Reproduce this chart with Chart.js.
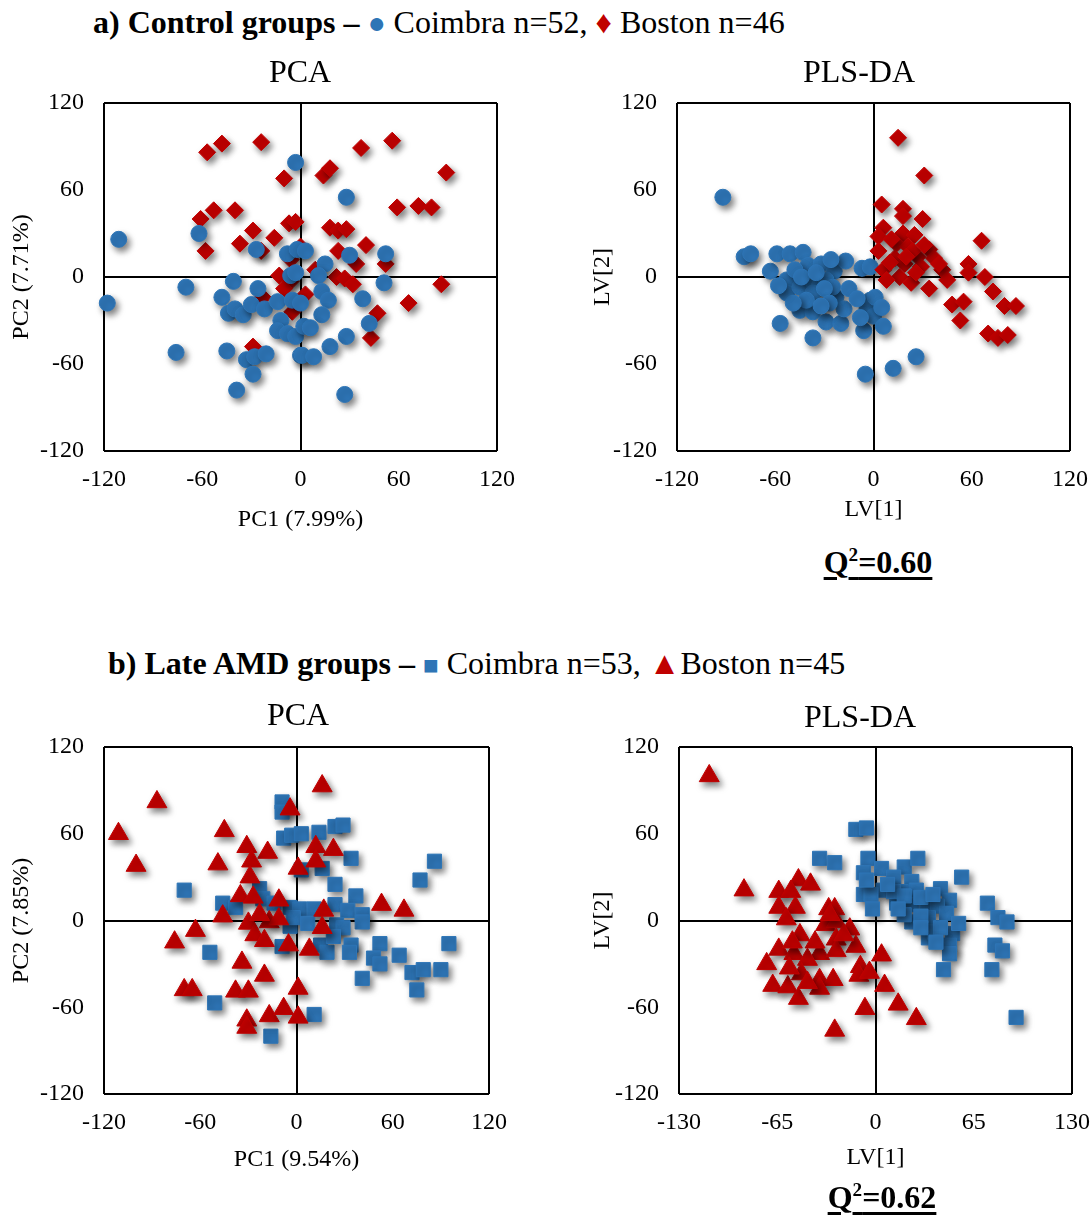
<!DOCTYPE html>
<html>
<head>
<meta charset="utf-8">
<script src="https://cdn.jsdelivr.net/npm/chart.js@4.4.0/dist/chart.umd.min.js"></script>
<style>
  body { margin: 0; width: 1092px; height: 1215px; overflow: hidden; background: #fff; position: relative;
         font-family: 'Liberation Serif', 'Times New Roman', serif; color: #000; }
  .box { position: absolute; }
  .txt { position: absolute; white-space: nowrap; line-height: 1; }
  .mid { transform: translate(-50%, -50%); }
  .q2 { font-weight: bold; font-size: 32px; text-decoration: underline; text-decoration-thickness: 3px; text-underline-offset: 4px; }
  .q2 sup { font-size: 0.6em; line-height: 0; }
</style>
</head>
<body>
<div class="box" style="left:0px;top:63px"><canvas id="aPca" width="537" height="478"></canvas></div>
<div class="box" style="left:580px;top:63px"><canvas id="aPls" width="530" height="478"></canvas></div>
<div class="box" style="left:0px;top:707px"><canvas id="bPca" width="529" height="478"></canvas></div>
<div class="box" style="left:580px;top:707px"><canvas id="bPls" width="532" height="478"></canvas></div>

<div class="txt" style="left:93px;top:6px;font-size:32px"><b>a) Control groups –</b> <span style="color:#2E75B6;font-size:30px">●</span> Coimbra n=52, <span style="color:#C00000">♦</span> Boston n=46</div>
<div class="txt mid" style="left:300px;top:71px;font-size:32px">PCA</div>
<div class="txt mid" style="left:859px;top:71px;font-size:32px">PLS-DA</div>
<div class="txt mid q2" style="left:878px;top:562px">Q<sup>2</sup>=0.60</div>

<div class="txt" style="left:108px;top:647px;font-size:32px"><b>b) Late AMD groups –</b> <span style="color:#2E75B6;font-size:26px">■</span> Coimbra n=53, <span style="color:#C00000">▲</span>Boston n=45</div>
<div class="txt mid" style="left:298px;top:714px;font-size:32px">PCA</div>
<div class="txt mid" style="left:860px;top:716px;font-size:32px">PLS-DA</div>
<div class="txt mid q2" style="left:882px;top:1197px">Q<sup>2</sup>=0.62</div>

<script>
// tick labels
const ticks120 = [-120, -60, 0, 60, 120];
const ticks130 = [-130, -65, 0, 65, 130];

// a) control groups, PCA
const aPcaCoimbraX = [-3, -111, -62, -27, -8, -2, -6, -118, -70, -41, -48, -26, -44, -40, -35, -30, -22, -14, -5, -12, -14, -8, -3, -76, -45, -33, -28, -21, -29, -39, 0, 2,
  28, 30, 52, 51, 3, 15, 11, -3, 13, 17, 38, 13, 42, 6, 28, 18, 1, 8, 27, 0];
const aPcaCoimbraY = [79, 26, 30, 19, 16, 19, 1, -18, -7, -3, -14, -8, -25, -22, -26, -19, -22, -17, -16, -30, -37, -39, -41, -52, -51, -57, -55, -53, -67, -78, -54, -34,
  55, 15, 16, -4, 18, 9, 1, 3, -10, -16, -15, -26, -32, -35, -41, -48, -54, -55, -81, -18];
const aPcaBostonX = [-57, -48, -24, -10, -61, -53, -40, -58, -37, -29, -24, -16, -7, -3, -13, -6, 0, -23, -5, -29,
  56, 37, 14, 18, 89, 59, 72, 80, 18, 23, 28, 40, 23, 34, 52, 22, 27, 32, 9, 86, 66, 47, 43, -10, 3, -6];
const aPcaBostonY = [86, 92, 93, 68, 40, 46, 46, 18, 23, 32, 18, 27, 37, 38, 1, -3, 21, -14, -24, -48,
  94, 89, 70, 75, 72, 48, 49, 48, 34, 32, 33, 22, 18, 9, 9, 0, -1, -5, 5, -5, -18, -25, -42, -8, -12, 12];

// a) control groups, PLS-DA
const aPlsCoimbraX = [-92, -79, -75, -63, -59, -51, -43, -40, -32, -24, -17, -7, -53, -53, -45, -37, -33, -29, -37, -23, -45, -37, -29, -20, -18, -57,
  -37, -6, -2, -4, 0, -5, -25, 1, 5, 6, -2, 12, 26, -48, -44, -35, -30, -27, -41, -49, -32, -15, -10, -26, -8, -58];
const aPlsCoimbraY = [55, 14, 16, 4, 16, 16, 17, 8, 9, 4, 11, 6, -2, -11, -7, -3, -6, -2, -11, -14, -23, -24, -31, -32, -22, -32,
  -42, -37, -16, -22, -27, -67, -7, -14, -21, -34, 7, -63, -55, 5, 0, 3, -8, -18, -16, -18, -20, -8, -15, 12, -28, -6];
const aPlsBostonX = [15, 31, 5, 18, 18, 30, 6, 3, 18, 25, 14, 21, 3, 34, 13, 27, 37, 19, 29, 6, 42, 45, 16, 23, 34, 58, 58, 66, 68, 73, 48, 55, 53, 80, 87, 70, 76, 82,
  11, 24, 10, 31, 20, 40, 8, 26];
const aPlsBostonY = [96, 70, 50, 47, 42, 40, 34, 28, 30, 29, 23, 21, 18, 19, 13, 14, 13, 9, 7, 5, 5, -2, 0, -4, -8, 9, 3, 25, 0, -10, -19, -17, -30, -20, -20, -39, -42, -40,
  26, 18, 10, 22, 14, 9, -2, 3];

// b) late AMD groups, PCA
const bPcaCoimbraX = [-9, -9, -8, -3, -70, -46, -38, -23, -21, -4, -4, -9, -54, -51, -16,
  3, 14, 24, 29, 34, 16, 3, 86, 77, 24, 37, 24, 32, 41, 41, 2, 11, -2, 25, 29, 15, 19, 23, 34, 33, 52, 48, 52, 64, 72, 79, 90, 95, 75, 41, 11, 7, -14];
const bPcaCoimbraY = [82, 75, 57, 59, 21, 12, 9, 22, 15, 9, -4, -18, -22, -57, -80,
  60, 61, 65, 66, 43, 36, 35, 41, 28, 25, 17, 11, 7, 4, -1, 8, 8, 2, -3, -5, -17, -22, -11, -17, -22, -16, -26, -30, -24, -36, -34, -34, -16, -48, -40, -65, -2, 12];
const bPcaBostonX = [-87, -111, -100, -45, -31, -18, -28, -49, -29, -35, -27, -11, -4, 1, -46, -30, -17, -11, -26, -20, -5, -63, -76, -34, -20, -70, -65, -38, -30,
  -31, -31, -17, -8, 1, 1, 16, 12, 23, 12, 17, 16, 53, 67, -23, 8];
const bPcaBostonY = [82, 60, 38, 62, 51, 47, 41, 39, 30, 17, 16, 14, 77, 36, 3, -2, -1, 1, -10, -14, -17, -7, -15, -29, -38, -48, -48, -49, -49,
  -69, -74, -66, -61, -47, -67, 93, 51, 49, 41, 7, -5, 11, 7, 4, -20];

// b) late AMD groups, PLS-DA
const bPlsCoimbraX = [-13, -6, -37, -27, -5, -8, -8, 4, 19, 28, 57, 12, 24, 5, -3, 17, 27, 43, 49, 14, 24, 34, 41, 47, 74, 81, 87, 24, 35, 35, 39, 51, 49, 49, 79, 84, 45, 77, 93,
  12, 19, 30, 38, 19, 30, 43, -6, 8, 15, 30, 40, -2, 55];
const bPlsCoimbraY = [63, 64, 43, 40, 43, 33, 18, 36, 37, 43, 30, 30, 27, 21, 18, 20, 21, 22, 14, 12, 11, 12, 10, 5, 12, 2, -1, -1, 2, -12, -8, -9, -17, -23, -17, -21, -34, -34, -67,
  20, 17, 16, 18, 4, 3, -5, 28, 25, 8, -5, -15, 8, -2];
const bPlsBostonX = [-110, -87, -51, -43, -64, -56, -64, -53, -59, -31, -27, -33, -26, -17, -26, -50, -13, -64, -54, -37, -26, -45, -72, -10, -49, -68, -58, -37, -28, -11,
  -51, -37, -7, -27, 4, -4, 6, 15, 27, -21, -40, -57, -45, -30, -55];
const bPlsBostonY = [100, 21, 28, 25, 20, 20, 9, 9, 1, 8, 8, -3, -1, -6, -13, -10, -18, -20, -23, -23, -21, -27, -30, -32, -37, -45, -46, -41, -41, -38,
  -54, -47, -61, -76, -24, -36, -45, -58, -68, -10, -15, -33, -43, 4, -15];

const BLUE = '#2E75B6';
const RED = '#C00000';
const FONT = "'Liberation Serif', 'Times New Roman', serif";

function pts(xs, ys) {
  return xs.map((x, i) => ({x: x, y: ys[i]}));
}

// excel-like drop shadow under the markers
const shadow = {
  id: 'shadow',
  beforeDatasetsDraw(chart) {
    const c = chart.ctx;
    c.save();
    c.shadowColor = 'rgba(0,0,0,0.5)';
    c.shadowBlur = 6;
    c.shadowOffsetX = 3;
    c.shadowOffsetY = 4;
  },
  afterDatasetsDraw(chart) {
    chart.ctx.restore();
  }
};

function axis(pos, tickList, title, size, titlePad, tickPad) {
  const lo = tickList[0], hi = tickList[tickList.length - 1];
  return {
    type: 'linear',
    position: pos,
    min: lo,
    max: hi,
    afterBuildTicks: s => { s.ticks = tickList.map(v => ({value: v})); },
    afterFit: s => { if (pos === 'left') s.width = size; else s.height = size; },
    ticks: {color: '#000', font: {family: FONT, size: 24}, padding: tickPad},
    grid: {
      // only the frame and the zero lines are drawn
      color: c => (c.tick && (c.tick.value === 0 || c.tick.value === lo || c.tick.value === hi)) ? '#000' : 'rgba(0,0,0,0)',
      lineWidth: 2,
      drawTicks: false
    },
    border: {display: false},
    title: {display: true, text: title, color: '#000', font: {family: FONT, size: 24}, padding: titlePad}
  };
}

function makeChart(id, sets, xt, yt, xTitle, yTitle, lay) {
  return new Chart(document.getElementById(id), {
    type: 'scatter',
    data: {datasets: sets},
    options: {
      responsive: false,
      animation: false,
      clip: false,
      layout: {padding: {top: 40, right: 40, left: 0, bottom: 0}},
      plugins: {legend: {display: false}, tooltip: {enabled: false}},
      scales: {
        x: axis('bottom', xt, xTitle, lay.xH, {top: 0, bottom: lay.xTitlePad}, 14),
        y: axis('left', yt, yTitle, lay.yW, {top: lay.yTitlePad, bottom: 0}, 20)
      }
    },
    plugins: [shadow]
  });
}

function ds(label, xs, ys, style, color, r) {
  return {
    label: label,
    data: pts(xs, ys),
    pointStyle: style,
    pointRadius: r,
    pointBackgroundColor: color,
    pointBorderColor: color,
    pointBorderWidth: 1
  };
}

// first dataset is drawn on top
makeChart('aPca', [
  ds('Coimbra', aPcaCoimbraX, aPcaCoimbraY, 'circle', BLUE, 8),
  ds('Boston', aPcaBostonX, aPcaBostonY, 'rectRot', RED, 8.5)
], ticks120, ticks120, 'PC1 (7.99%)', 'PC2 (7.71%)', {xH: 90, yW: 104, xTitlePad: 6.6, yTitlePad: 7.6});

makeChart('aPls', [
  ds('Boston', aPlsBostonX, aPlsBostonY, 'rectRot', RED, 8.5),
  ds('Coimbra', aPlsCoimbraX, aPlsCoimbraY, 'circle', BLUE, 8)
], ticks120, ticks120, 'LV[1]', 'LV[2]', {xH: 90, yW: 97, xTitlePad: 16.6, yTitlePad: 8.6});

makeChart('bPca', [
  ds('Boston', bPcaBostonX, bPcaBostonY, 'triangle', RED, 11.5),
  ds('Coimbra', bPcaCoimbraX, bPcaCoimbraY, 'rect', BLUE, 10)
], ticks120, ticks120, 'PC1 (9.54%)', 'PC2 (7.85%)', {xH: 91, yW: 104, xTitlePad: 10.6, yTitlePad: 7.6});

makeChart('bPls', [
  ds('Boston', bPlsBostonX, bPlsBostonY, 'triangle', RED, 11.5),
  ds('Coimbra', bPlsCoimbraX, bPlsCoimbraY, 'rect', BLUE, 10)
], ticks130, ticks120, 'LV[1]', 'LV[2]', {xH: 91, yW: 99, xTitlePad: 12.6, yTitlePad: 8.6});
</script>
</body>
</html>
